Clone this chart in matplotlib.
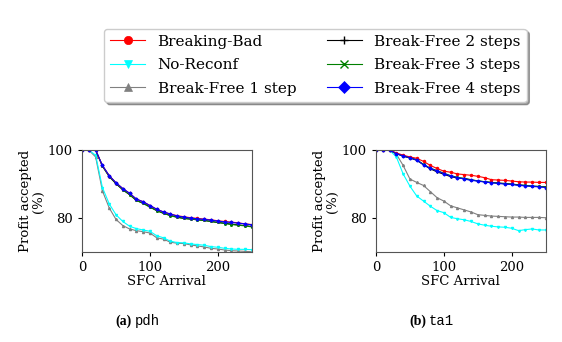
import matplotlib
matplotlib.use("Agg")
import matplotlib.pyplot as plt

plt.rcParams['font.family'] = 'DejaVu Serif'

# SFC arrival points
x = list(range(0, 251, 10))

# pdh
pdh_bb = [100, 100, 100, 95.5, 92.5, 90.4, 88.7, 87.3, 85.6, 84.8, 83.7, 82.6, 81.8,
          81.2, 80.7, 80.4, 80.1, 79.9, 79.7, 79.5, 79.2, 79.0, 78.8, 78.6, 78.3, 78.1]
pdh_nr = [100, 100, 98.5, 89.0, 84.2, 81.0, 79.0, 77.6, 76.9, 76.5, 76.1, 74.8, 74.2,
          73.2, 72.8, 72.7, 72.4, 72.2, 72.0, 71.6, 71.4, 71.1, 70.9, 70.8, 70.8, 70.7]
pdh_bf1 = [100, 100, 98.0, 88.0, 83.0, 79.6, 77.8, 76.8, 76.3, 76.0, 75.6, 74.2, 73.8,
           72.9, 72.6, 72.5, 72.1, 71.8, 71.5, 71.1, 70.9, 70.6, 70.4, 70.3, 70.2, 70.1]
pdh_bf2 = [100, 100, 100, 95.3, 92.2, 90.1, 88.3, 86.9, 85.2, 84.4, 83.3, 82.2, 81.4,
           80.8, 80.3, 79.9, 79.7, 79.5, 79.3, 79.0, 78.7, 78.5, 78.2, 78.0, 77.8, 77.5]
pdh_bf3 = [100, 100, 100, 95.3, 92.3, 90.2, 88.4, 86.9, 85.2, 84.3, 83.2, 82.2, 81.4,
           80.7, 80.2, 79.9, 79.7, 79.5, 79.3, 79.0, 78.7, 78.4, 78.1, 77.9, 77.7, 77.4]
pdh_bf4 = [100, 100, 100, 95.5, 92.5, 90.4, 88.7, 87.3, 85.6, 84.8, 83.7, 82.6, 81.8,
           81.2, 80.6, 80.3, 80.0, 79.8, 79.6, 79.4, 79.1, 78.9, 78.7, 78.5, 78.3, 78.0]

# ta1
ta1_bb = [100, 100, 100, 99.2, 98.5, 98.0, 97.6, 96.7, 95.5, 94.6, 93.8, 93.5, 93.0,
          92.8, 92.6, 92.3, 91.9, 91.3, 91.2, 91.1, 90.9, 90.7, 90.6, 90.6, 90.5, 90.5]
ta1_nr = [100, 100, 100, 98.0, 93.0, 89.4, 86.5, 85.0, 83.5, 82.2, 81.6, 80.2, 79.8,
          79.5, 79.0, 78.3, 77.9, 77.6, 77.4, 77.3, 77.0, 76.3, 76.6, 76.8, 76.5, 76.5]
ta1_bf1 = [100, 100, 100, 98.8, 95.5, 91.5, 90.5, 89.6, 87.8, 86.0, 85.0, 83.6, 83.0,
           82.4, 81.8, 81.0, 80.8, 80.6, 80.5, 80.4, 80.3, 80.3, 80.2, 80.2, 80.2, 80.1]
ta1_bf2 = [100, 100, 100, 99.0, 98.2, 97.7, 97.0, 95.7, 94.5, 93.6, 92.9, 92.2, 91.8,
           91.7, 91.3, 90.9, 90.7, 90.5, 90.3, 90.2, 90.0, 89.8, 89.6, 89.4, 89.3, 89.2]
ta1_bf3 = [100, 100, 100, 99.0, 98.3, 97.8, 97.2, 95.8, 94.7, 94.0, 93.2, 92.5, 92.0,
           91.6, 91.2, 91.0, 90.7, 90.5, 90.3, 90.1, 90.0, 89.7, 89.6, 89.4, 89.3, 89.1]
ta1_bf4 = [100, 100, 100, 99.0, 98.3, 97.8, 97.1, 95.7, 94.6, 93.9, 93.1, 92.4, 91.9,
           91.5, 91.1, 90.9, 90.6, 90.4, 90.2, 90.0, 89.9, 89.6, 89.5, 89.3, 89.2, 89.0]

labels = ['Breaking-Bad', 'No-Reconf', 'Break-Free 1 step',
          'Break-Free 2 steps', 'Break-Free 3 steps', 'Break-Free 4 steps']
colors = ['red', 'cyan', 'gray', 'black', 'green', 'blue']
markers = ['o', 'v', '^', '+', 'x', 'D']
# drawing order: lower ones first so red/blue sit on top like the reference
order = [2, 1, 3, 4, 0, 5]

fig = plt.figure(figsize=(5.62, 3.42), dpi=100)
ax1 = fig.add_axes([0.146, 0.263, 0.302, 0.298])
ax2 = fig.add_axes([0.669, 0.263, 0.302, 0.298])

panels = [(ax1, [pdh_bb, pdh_nr, pdh_bf1, pdh_bf2, pdh_bf3, pdh_bf4]),
          (ax2, [ta1_bb, ta1_nr, ta1_bf1, ta1_bf2, ta1_bf3, ta1_bf4])]

for ax, series in panels:
    for i in order:
        ax.plot(x, series[i], color=colors[i], marker=markers[i],
                markersize=1.5, linewidth=0.8)
    ax.set_xlim(0, 250)
    ax.set_ylim(70, 100)
    ax.set_xticks([0, 100, 200])
    ax.set_yticks([80, 100])
    ax.tick_params(labelsize=9.5, length=3)
    ax.set_xlabel('SFC Arrival', fontsize=9.5, labelpad=1)
    ax.set_ylabel('Profit accepted\n(%)', fontsize=9.5, labelpad=2, linespacing=1.0)
    for s in ax.spines.values():
        s.set_color('#555555')

# legend handles with bigger markers
leg_handles = []
for i in range(6):
    h, = ax1.plot([], [], color=colors[i], marker=markers[i], markersize=6,
                  linewidth=0.8, markeredgewidth=1.0 if markers[i] in '+x' else 0.5)
    leg_handles.append(h)
fig.legend(leg_handles, labels, loc='upper center', bbox_to_anchor=(0.561, 0.925),
           ncol=2, fontsize=11, shadow=True, fancybox=True, handlelength=2.3,
           handletextpad=0.8, columnspacing=2.0, labelspacing=0.62, borderpad=0.4,
           borderaxespad=0.2)

fig.text(0.205, 0.05, '(a)', fontsize=10, family='Liberation Serif', fontweight='bold')
fig.text(0.24, 0.05, 'pdh', fontsize=10, family='Liberation Mono')
fig.text(0.728, 0.05, '(b)', fontsize=10, family='Liberation Serif', fontweight='bold')
fig.text(0.763, 0.05, 'ta1', fontsize=10, family='Liberation Mono')

fig.savefig('out.png', dpi=100)
